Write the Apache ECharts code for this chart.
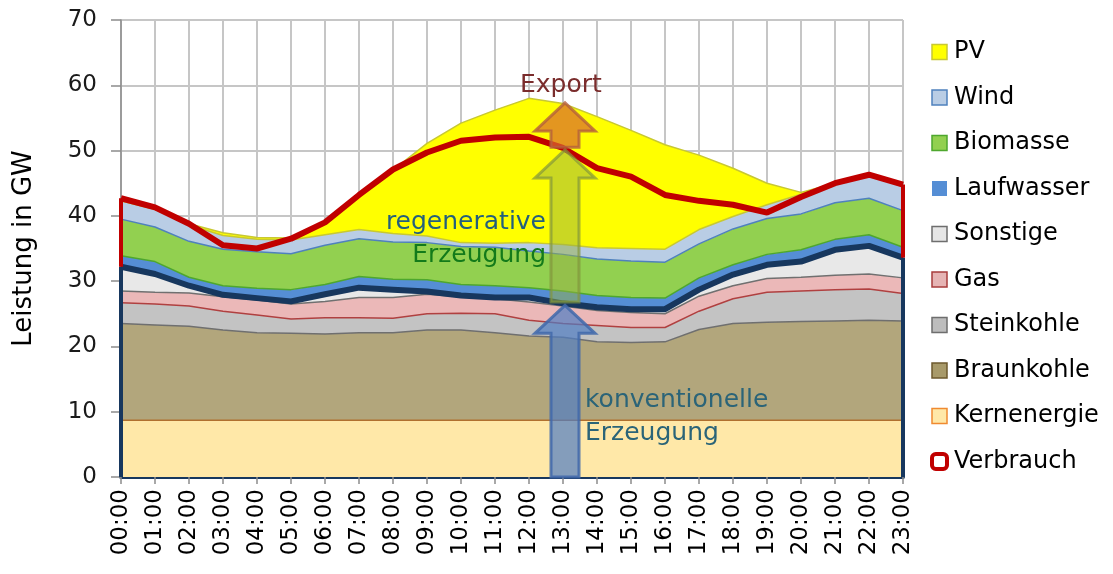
<!DOCTYPE html>
<html>
<head>
<meta charset="utf-8">
<script src="https://cdn.jsdelivr.net/npm/echarts@6/dist/echarts.min.js"></script>
<style>
html,body{margin:0;padding:0;background:#fff;}
#chart{width:1113px;height:574px;}
</style>
</head>
<body>
<div id="chart"></div>
<script>
const hours = ['00:00','01:00','02:00','03:00','04:00','05:00','06:00','07:00','08:00','09:00','10:00','11:00','12:00','13:00','14:00','15:00','16:00','17:00','18:00','19:00','20:00','21:00','22:00','23:00'];
const yTicks = [0,10,20,30,40,50,60,70];

const kernenergie = [8.7,8.7,8.7,8.7,8.7,8.7,8.7,8.7,8.7,8.7,8.7,8.7,8.7,8.7,8.7,8.7,8.7,8.7,8.7,8.7,8.7,8.7,8.7,8.7];
const braunkohle  = [14.8,14.6,14.4,13.8,13.4,13.3,13.2,13.4,13.4,13.8,13.8,13.4,12.9,12.7,12.0,11.9,12.0,13.9,14.8,15.0,15.1,15.2,15.3,15.2];
const steinkohle  = [3.2,3.2,3.1,2.9,2.7,2.2,2.5,2.3,2.2,2.5,2.6,2.9,2.4,2.1,2.5,2.3,2.2,2.8,3.8,4.6,4.7,4.8,4.8,4.2];
const gas         = [1.8,1.8,2.0,2.2,2.3,2.3,2.5,3.1,3.2,3.0,2.5,2.3,2.8,2.7,2.3,2.3,2.1,2.3,2.0,2.1,2.1,2.2,2.3,2.4];
const sonstige    = [3.7,2.8,1.1,0.3,0.3,0.4,1.1,1.5,1.2,0.4,0.2,0.2,0.7,0.4,0.5,0.5,0.7,1.0,1.7,2.1,2.4,3.9,4.3,3.1];
const laufwasser  = [1.7,1.9,1.3,1.4,1.5,1.8,1.5,1.7,1.6,1.8,1.7,1.8,1.5,1.9,1.8,1.8,1.7,1.8,1.5,1.6,1.8,1.6,1.7,1.6];
const biomasse    = [5.6,5.3,5.5,5.6,5.6,5.5,6.0,5.8,5.7,5.7,5.8,5.9,5.6,5.6,5.6,5.6,5.5,5.2,5.5,5.5,5.5,5.6,5.6,5.6];
const wind        = [2.8,2.7,2.5,2.1,1.9,2.1,1.6,1.4,1.3,1.0,0.6,0.6,1.3,1.5,1.7,1.9,2.0,2.2,1.9,2.1,3.0,3.0,3.5,3.7];
const pv          = [0,0,0.2,0.4,0.3,0.3,1.7,5.1,9.7,14.2,18.3,20.4,22.1,21.6,20.1,18.1,16.0,11.4,7.4,3.3,0.3,0,0,0];
const verbrauch   = [42.7,41.3,38.8,35.5,35.0,36.5,39.0,43.2,47.1,49.7,51.5,52.0,52.1,50.4,47.3,46.0,43.2,42.3,41.7,40.5,42.9,45.0,46.3,44.8];

// annotation arrows at 13:00: [category index, from GW, to GW]
const arrowKonv = [13, 0, 26.3];
const arrowReg  = [13, 26.8, 50.1];
const arrowExp  = [13, 50.5, 57.3];

// conventional total (sum of conventional layers)
const konv = hours.map((_, i) => +(kernenergie[i] + braunkohle[i] + steinkohle[i] + gas[i] + sonstige[i]).toFixed(2));

const FONT = '"DejaVu Sans", Verdana, sans-serif';
const NAVY = '#17375e';
const RED = '#c00000';

function area(name, data, fill, line, lw) {
  return {
    name, type: 'line', stack: 'gen', data, symbol: 'none',
    areaStyle: { color: fill, opacity: 1 },
    lineStyle: { color: line, width: lw },
    itemStyle: { color: fill },
    emphasis: { disabled: true }, z: 2
  };
}

function arrowItem(fill, stroke) {
  return function (params, api) {
    const x = api.coord([api.value(0), api.value(1)])[0] + 2;
    const yb = api.coord([api.value(0), api.value(1)])[1];
    const yt = api.coord([api.value(0), api.value(2)])[1];
    const sw = 14, hw = 30, hl = 28;
    const yh = yt + hl;
    return {
      type: 'polygon',
      shape: { points: [[x - sw, yb], [x - sw, yh], [x - hw, yh], [x, yt], [x + hw, yh], [x + sw, yh], [x + sw, yb]] },
      style: { fill, stroke, lineWidth: 3 }
    };
  };
}

const chart = echarts.init(document.getElementById('chart'));
chart.setOption({
  animation: false,
  textStyle: { fontFamily: FONT },
  grid: { left: 121, right: 210, top: 20, bottom: 97, containLabel: false },
  xAxis: {
    type: 'category', data: hours, boundaryGap: false,
    axisLine: { show: true, lineStyle: { color: NAVY, width: 4 } },
    axisTick: { show: true, inside: false, length: 7, interval: 0, lineStyle: { color: '#8c8c8c', width: 1.5 } },
    axisLabel: { rotate: 90, fontSize: 23, color: '#000', margin: 12, interval: 0, fontFamily: FONT },
    splitLine: { show: true, interval: 0, lineStyle: { color: '#c6c6c6', width: 2 } }
  },
  yAxis: {
    type: 'value', min: yTicks[0], max: yTicks[yTicks.length - 1], interval: 10,
    name: 'Leistung in GW', nameLocation: 'middle', nameGap: 84,
    nameTextStyle: { fontSize: 26, color: '#000', fontFamily: FONT },
    axisLine: { show: true, lineStyle: { color: '#8c8c8c', width: 1.5 } },
    axisTick: { show: true, length: 10, lineStyle: { color: '#8c8c8c', width: 1.5 } },
    axisLabel: { fontSize: 23, color: '#1a1a1a', margin: 24, fontFamily: FONT },
    splitLine: { show: true, lineStyle: { color: '#c6c6c6', width: 2 } }
  },
  legend: {
    orient: 'vertical', left: 925, top: 34, itemWidth: 15, itemHeight: 15, itemGap: 19.5,
    textStyle: { fontSize: 24, color: '#000', fontFamily: FONT, lineHeight: 26, padding: [0, 0, 0, 2] },
    selectedMode: false,
    data: [
      { name: 'PV', icon: 'rect', itemStyle: { color: '#ffff00', borderColor: '#c8c832', borderWidth: 1.5 } },
      { name: 'Wind', icon: 'rect', itemStyle: { color: '#b9cde5', borderColor: '#4f81bd', borderWidth: 1.5 } },
      { name: 'Biomasse', icon: 'rect', itemStyle: { color: '#92d050', borderColor: '#4ea72e', borderWidth: 1.5 } },
      { name: 'Laufwasser', icon: 'rect', itemStyle: { color: '#558ed5', borderWidth: 0 } },
      { name: 'Sonstige', icon: 'rect', itemStyle: { color: '#e6e6e6', borderColor: '#6e6e6e', borderWidth: 1.5 } },
      { name: 'Gas', icon: 'rect', itemStyle: { color: '#e6b4b4', borderColor: '#a83c3c', borderWidth: 1.5 } },
      { name: 'Steinkohle', icon: 'rect', itemStyle: { color: '#bdbdbd', borderColor: '#6e6e6e', borderWidth: 1.5 } },
      { name: 'Braunkohle', icon: 'rect', itemStyle: { color: '#a89a6a', borderColor: '#6e5a2e', borderWidth: 1.5 } },
      { name: 'Kernenergie', icon: 'rect', itemStyle: { color: '#ffe8a8', borderColor: '#f08a30', borderWidth: 1.5 } },
      { name: 'Verbrauch', icon: 'roundRect', itemStyle: { color: '#ffffff', borderColor: RED, borderWidth: 4 } }
    ]
  },
  series: [
    area('Kernenergie', kernenergie, '#ffe8a8', '#b0702f', 1.5),
    area('Braunkohle', braunkohle, '#b2a67c', '#6f6f6f', 1.5),
    area('Steinkohle', steinkohle, '#c3c3c3', '#b04040', 1.5),
    area('Gas', gas, '#ebb8b8', '#707070', 1.5),
    area('Sonstige', sonstige, '#e8e8e8', NAVY, 0),
    area('Laufwasser', laufwasser, '#558ed5', '#4ea72e', 1.5),
    area('Biomasse', biomasse, '#92d050', '#4f81bd', 1.5),
    area('Wind', wind, '#b9cde5', '#c8c832', 1.5),
    area('PV', pv, '#ffff00', '#c8c832', 1.5),
    {
      name: 'konventionell', type: 'line', data: konv, symbol: 'none', z: 4,
      lineStyle: { color: NAVY, width: 6 }, emphasis: { disabled: true },
      markLine: {
        silent: true, symbol: ['none', 'none'], label: { show: false },
        lineStyle: { color: NAVY, width: 4, type: 'solid' },
        data: [
          [{ coord: [0, 0] }, { coord: [0, konv[0]] }],
          [{ coord: [hours.length - 1, 0] }, { coord: [hours.length - 1, konv[hours.length - 1]] }]
        ]
      }
    },
    {
      name: 'Verbrauch', type: 'line', data: verbrauch, symbol: 'none', z: 5,
      itemStyle: { color: RED },
      lineStyle: { color: RED, width: 6 }, emphasis: { disabled: true },
      markLine: {
        silent: true, symbol: ['none', 'none'], label: { show: false },
        lineStyle: { color: RED, width: 4, type: 'solid' },
        data: [
          [{ coord: [0, konv[0]] }, { coord: [0, verbrauch[0]] }],
          [{ coord: [hours.length - 1, konv[hours.length - 1]] }, { coord: [hours.length - 1, verbrauch[hours.length - 1]] }]
        ]
      }
    },
    { type: 'custom', z: 6, silent: true, data: [arrowKonv], renderItem: arrowItem('rgba(80,125,195,0.7)', 'rgba(65,105,170,0.85)') },
    { type: 'custom', z: 6, silent: true, data: [arrowReg], renderItem: arrowItem('rgba(150,175,70,0.5)', 'rgba(130,150,60,0.7)') },
    { type: 'custom', z: 6, silent: true, data: [arrowExp], renderItem: arrowItem('rgba(215,105,45,0.7)', 'rgba(180,95,60,0.8)') }
  ],
  graphic: [
    { type: 'text', left: 520, top: 73, z: 10, style: { text: 'Export', fontSize: 25, fill: '#7a2c2c', fontFamily: FONT } },
    { type: 'text', right: 1113 - 546, top: 210, z: 10, style: { text: 'regenerative', fontSize: 25, fill: '#235f7d', fontFamily: FONT, align: 'right' } },
    { type: 'text', right: 1113 - 546, top: 243, z: 10, style: { text: 'Erzeugung', fontSize: 25, fill: '#137a1a', fontFamily: FONT, align: 'right' } },
    { type: 'text', left: 585, top: 388, z: 10, style: { text: 'konventionelle', fontSize: 25, fill: '#2b6478', fontFamily: FONT } },
    { type: 'text', left: 585, top: 421, z: 10, style: { text: 'Erzeugung', fontSize: 25, fill: '#2b6478', fontFamily: FONT } }
  ]
});
</script>
</body>
</html>
